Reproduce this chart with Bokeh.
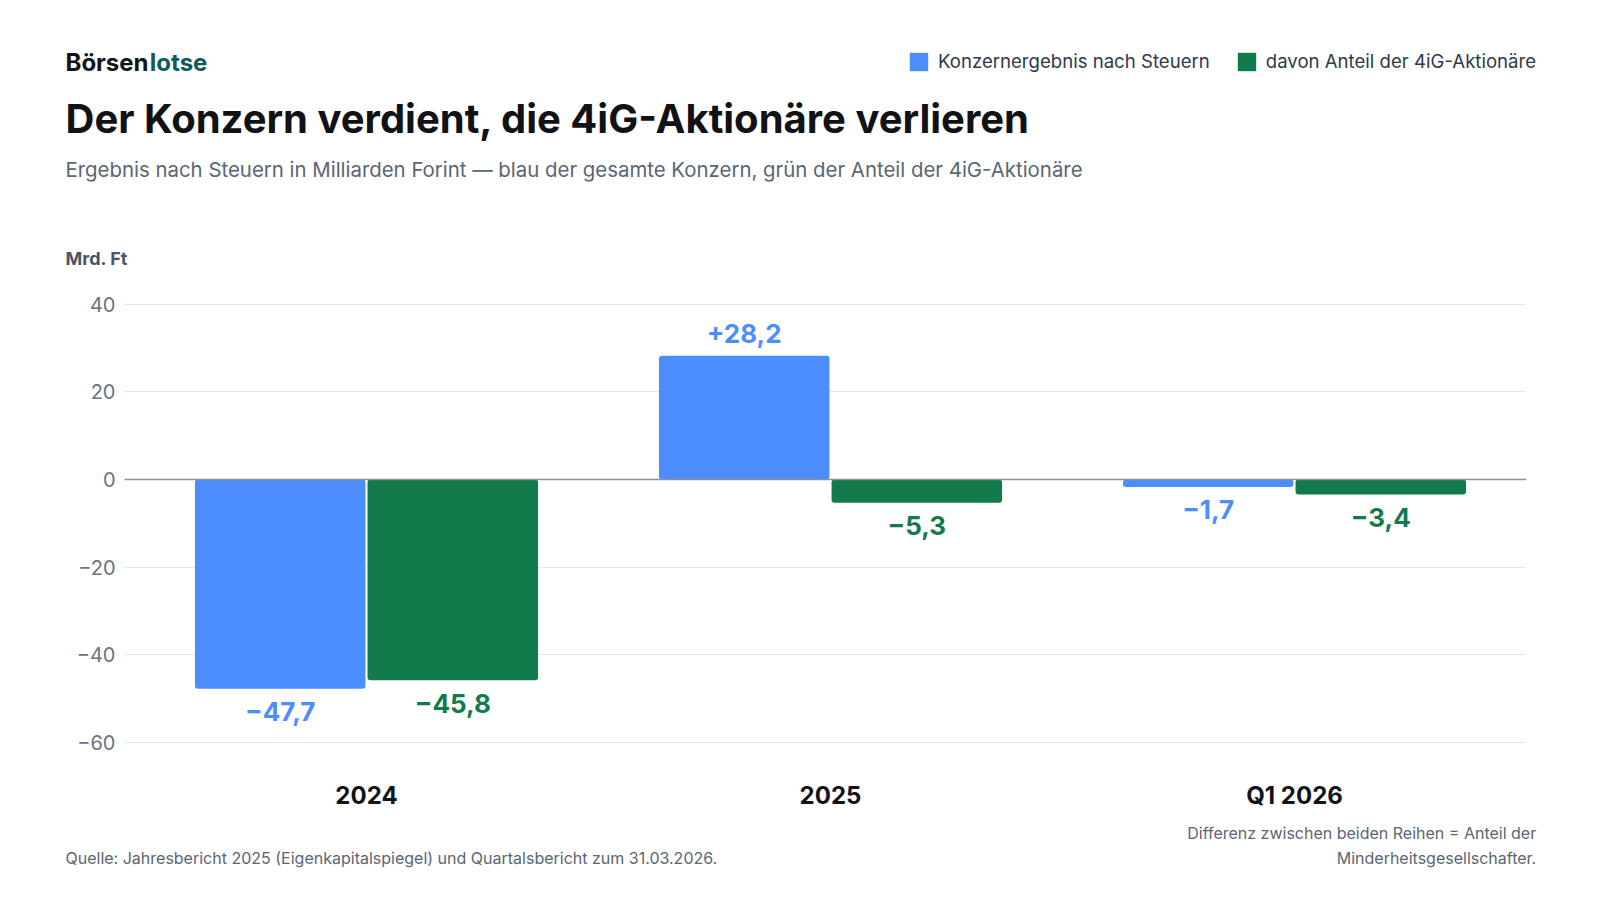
from bokeh.plotting import figure
from bokeh.layouts import column
from bokeh.models import (ColumnDataSource, Range1d, FixedTicker, Span, Label,
                          Legend, LegendItem)
from bokeh.transform import dodge
from bokeh.core.properties import value
from bokeh.embed import file_html
from bokeh.resources import INLINE

# ---------------- data ----------------
categories = ["2024", "2025", "Q1 2026"]
konzern = [-47.7, 28.2, -1.7]          # Konzernergebnis nach Steuern (Mrd. Ft)
aktionaere = [-45.8, -5.3, -3.4]       # davon Anteil der 4iG-Aktionäre (Mrd. Ft)
y_ticks = [-60, -40, -20, 0, 20, 40]
series_names = ["Konzernergebnis nach Steuern", "davon Anteil der 4iG-Aktionäre"]

BLUE = "#4C8DFF"
GREEN = "#117B4B"
FONT = "Inter"
W = 1584


def fmt(v):
    return f"{v:+.1f}".replace(".", ",").replace("-", "\u2212")


def fmt_tick(v):
    return str(v).replace("-", "\u2212")


def no_align(f):
    try:
        f.frame_align = False
    except Exception:
        pass


def blank(height, top, bottom):
    f = figure(width=W, height=height, output_backend="svg", toolbar_location=None,
               x_range=Range1d(0, W), y_range=Range1d(bottom, top),
               x_axis_type=None, y_axis_type=None, tools="",
               min_border=0, min_border_left=0, min_border_right=0,
               min_border_top=0, min_border_bottom=0)
    f.outline_line_color = None
    f.grid.grid_line_color = None
    f.background_fill_color = "white"
    f.border_fill_color = "white"
    no_align(f)
    return f


def lab(fig, text, px, py, size, color, style="normal", align="left"):
    fig.add_layout(Label(x=px, y=py, text=text, text_font=FONT, text_font_size=size,
                         text_font_style=style, text_color=color, text_align=align,
                         text_baseline="alphabetic"))


# ---------------- header (page y 0..280) ----------------
head = blank(280, 0, 280)
k = 0.346  # baseline correction (em)
lab(head, "Börsen", 65, 70.7 - k * 24, "24px", "#111418", "bold")
lab(head, "lotse", 149.3, 70.7 - k * 24, "24px", "#0E5A60", "bold")
lab(head, "Der Konzern verdient, die 4iG-Aktionäre verlieren", 65, 131.7 - k * 40,
    "40px", "#111216", "bold")
lab(head, "Ergebnis nach Steuern in Milliarden Forint — blau der gesamte Konzern, "
          "grün der Anteil der 4iG-Aktionäre", 65, 176 - k * 20.4, "20.4px", "#5B6573")
lab(head, "Mrd. Ft", 65, 264 - k * 18, "18px", "#4B5563", "bold")

# legend swatches (zero-height helper bars, only used for the legend keys)
d1 = head.vbar(x=[0], top=[0], bottom=[0], width=0, fill_color=BLUE, line_color=None)
d2 = head.vbar(x=[0], top=[0], bottom=[0], width=0, fill_color=GREEN, line_color=None)
legend = Legend(items=[LegendItem(label=series_names[0], renderers=[d1]),
                       LegendItem(label=series_names[1], renderers=[d2])],
                orientation="horizontal", location=(907, 280 - 72.7),
                padding=0, margin=0, spacing=25, glyph_width=23, glyph_height=23,
                label_standoff=8, label_height=18, label_text_font=FONT,
                label_text_font_size="18.6px", label_text_color="#2F3A4B",
                border_line_alpha=0, background_fill_alpha=0)
head.add_layout(legend)

# ---------------- main chart (page y 280..815) ----------------
idx = list(range(len(categories)))
src = ColumnDataSource(dict(
    idx=idx,
    konzern=konzern,
    aktionaere=aktionaere,
    k_lab=[fmt(v) for v in konzern],
    a_lab=[fmt(v) for v in aktionaere],
    k_off=[-22 if v >= 0 else 23 for v in konzern],
    a_off=[-22 if v >= 0 else 23 for v in aktionaere],
))

p = figure(width=W, height=535, output_backend="svg", toolbar_location=None,
           x_range=Range1d(-0.5 - 10 / 464, 2.5), y_range=Range1d(-64.08, 43.10),
           min_border_left=124, min_border_right=W - 1526, min_border_top=10,
           min_border_bottom=55, tools="")
p.outline_line_color = None
p.background_fill_color = "white"
p.border_fill_color = "white"
no_align(p)

OFF = 0.186
BW = 0.3675
r1 = p.vbar(x=dodge("idx", -OFF, range=p.x_range), top="konzern", bottom=0, width=BW,
            source=src, fill_color=BLUE, line_color=None)
r2 = p.vbar(x=dodge("idx", OFF, range=p.x_range), top="aktionaere", bottom=0, width=BW,
            source=src, fill_color=GREEN, line_color=None)
for r in (r1, r2):
    try:
        r.glyph.border_radius = 3
    except Exception:
        pass

p.text(x=dodge("idx", -OFF, range=p.x_range), y="konzern", text="k_lab", y_offset="k_off",
       source=src, text_align="center", text_baseline="alphabetic",
       text_font=value(FONT), text_font_style="bold", text_font_size="26px",
       text_color=BLUE)
p.text(x=dodge("idx", OFF, range=p.x_range), y="aktionaere", text="a_lab", y_offset="a_off",
       source=src, text_align="center", text_baseline="alphabetic",
       text_font=value(FONT), text_font_style="bold", text_font_size="26px",
       text_color=GREEN)

p.add_layout(Span(location=0, dimension="width", line_color="#8B9099", line_width=1.6))

p.yaxis.ticker = FixedTicker(ticks=y_ticks)
p.yaxis.major_label_overrides = {t: fmt_tick(t) for t in y_ticks}
p.yaxis.axis_line_color = None
p.yaxis.major_tick_line_color = None
p.yaxis.minor_tick_line_color = None
p.yaxis.major_label_standoff = 3
p.yaxis.major_label_text_font = FONT
p.yaxis.major_label_text_font_size = "20px"
p.yaxis.major_label_text_color = "#6B7280"

p.xaxis.ticker = FixedTicker(ticks=idx)
p.xaxis.major_label_overrides = {i: c for i, c in zip(idx, categories)}
p.xaxis.axis_line_color = None
p.xaxis.major_tick_line_color = None
p.xaxis.minor_tick_line_color = None
p.xaxis.major_label_standoff = 14
p.xaxis.major_label_text_font = FONT
p.xaxis.major_label_text_font_size = "24px"
p.xaxis.major_label_text_font_style = "bold"
p.xaxis.major_label_text_color = "#111318"

p.xgrid.grid_line_color = None
p.ygrid.ticker = FixedTicker(ticks=y_ticks)
p.ygrid.grid_line_color = "#E5E7EB"
p.ygrid.grid_line_width = 1

# ---------------- footer (page y 815..880) ----------------
foot = blank(65, 815, 880)
lab(foot, "Quelle: Jahresbericht 2025 (Eigenkapitalspiegel) und Quartalsbericht zum 31.03.2026.",
    65, 863.3 - k * 16, "16px", "#5B6573")
lab(foot, "Differenz zwischen beiden Reihen = Anteil der", 1535.7, 838.3 - k * 16,
    "16px", "#5B6573", align="right")
lab(foot, "Minderheitsgesellschafter.", 1535.7, 862.7 - k * 16, "16px", "#5B6573",
    align="right")

layout = column(head, p, foot, spacing=0)
open("out.html", "w").write(file_html(layout, INLINE))
